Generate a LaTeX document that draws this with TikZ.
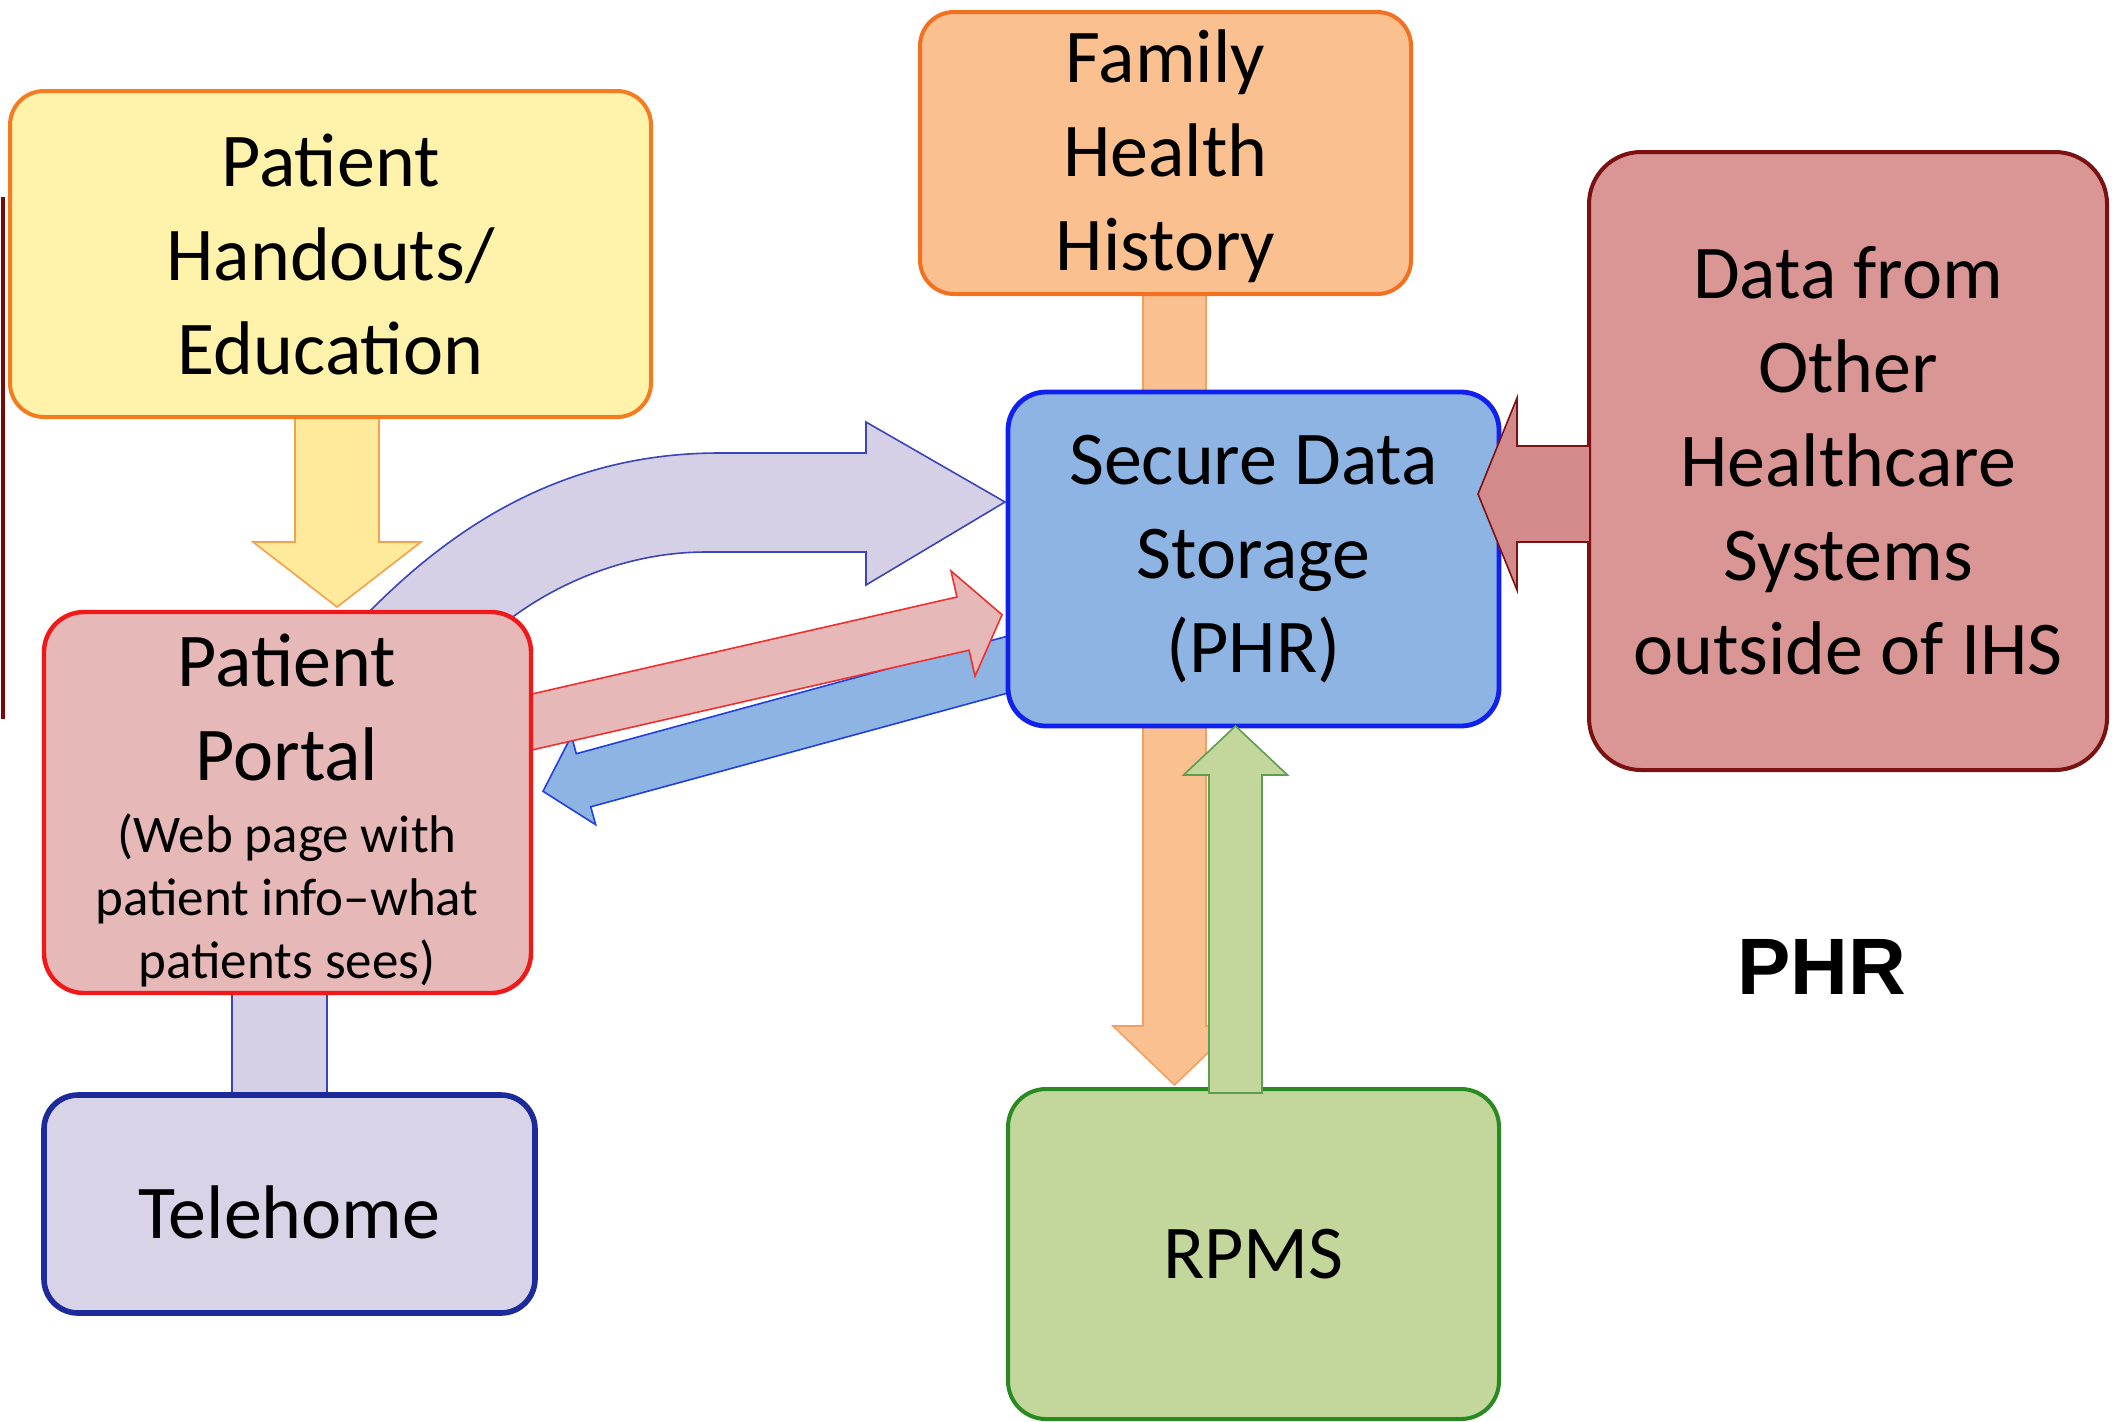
\documentclass[tikz,border=0pt]{standalone}
\usepackage{fontspec}
\setmainfont{Carlito}
\newfontfamily\headfont{Liberation Sans}
\usetikzlibrary{calc}

\definecolor{handfill}{HTML}{FFF2AA}
\definecolor{handline}{HTML}{F47B20}
\definecolor{yelfill}{HTML}{FFE99A}
\definecolor{yelline}{HTML}{F5A04A}
\definecolor{famfill}{HTML}{FAC08F}
\definecolor{famline}{HTML}{F37021}
\definecolor{orgline}{HTML}{F0A060}
\definecolor{datafill}{HTML}{D99694}
\definecolor{dataline}{HTML}{7B1111}
\definecolor{redfill}{HTML}{D38A8A}
\definecolor{secfill}{HTML}{8EB4E3}
\definecolor{secline}{HTML}{1020F0}
\definecolor{portfill}{HTML}{E6B9B8}
\definecolor{portline}{HTML}{F01818}
\definecolor{telefill}{HTML}{D8D3E6}
\definecolor{teleline}{HTML}{1C2A9C}
\definecolor{rpmsfill}{HTML}{C3D69B}
\definecolor{rpmsline}{HTML}{2A8A22}
\definecolor{lavfill}{HTML}{D5D0E5}
\definecolor{lavline}{HTML}{3A45B8}
\definecolor{pinkline}{HTML}{F03030}
\definecolor{blueline}{HTML}{2040E0}
\definecolor{grnline}{HTML}{5E9E4E}
\definecolor{edgeline}{HTML}{7A0A0A}

\pgfdeclarelayer{back}
\pgfsetlayers{back,main}

% straight block arrow: style, tail, tip, shaft half-width, head half-width, head length
\newcommand\blockarrow[6]{%
  \coordinate (babase) at ($(#3)!#6!(#2)$);
  \draw[#1] ($(#2)!#4!90:(#3)$) -- ($(babase)!#4!90:(#3)$)
    -- ($(babase)!#5!90:(#3)$) -- (#3) -- ($(babase)!#5!-90:(#3)$)
    -- ($(babase)!#4!-90:(#3)$) -- ($(#2)!#4!-90:(#3)$) -- cycle;
}

\begin{document}
\begin{tikzpicture}[x=0.5pt,y=-0.5pt,
  box/.style={draw, rounded corners=#1, line width=2pt, inner sep=0pt,
    align=center, font=\fontsize{38}{47}\selectfont},
  box/.default=17pt,
  lbl/.style={inner sep=0pt, align=center, font=\fontsize{38}{47}\selectfont},
  note/.style={inner sep=0pt, align=center, font=\fontsize{26.5}{31.5}\selectfont},
  flow/.style={line width=0.8pt, line join=miter},
  yelarrow/.style={flow, fill=yelfill, draw=yelline},
  orgarrow/.style={flow, fill=famfill, draw=orgline},
  grnarrow/.style={flow, fill=rpmsfill, draw=grnline},
  redarrow/.style={flow, fill=redfill, draw=dataline},
  pinkarrow/.style={flow, fill=portfill, draw=pinkline},
  bluearrow/.style={flow, fill=secfill, draw=blueline},
  lavarrow/.style={flow, fill=lavfill, draw=lavline}]

\begin{pgfonlayer}{back}
  \fill[white] (0,0) rectangle (2112,1421);
\end{pgfonlayer}
\useasboundingbox (0,0) rectangle (2112,1421);

% thin frame remnant on the left edge
\draw[edgeline, line width=2.4pt] (3,197) -- (3,719);

% boxes
\node[box=17pt, fill=handfill, draw=handline, minimum width=320.5pt, minimum height=163pt]
  (handouts) at (330.5,254) {Patient\\Handouts/\\Education};
\node[box=17pt, fill=famfill, draw=famline, minimum width=245.5pt, minimum height=141pt,
  text depth=2.5pt]
  (family) at (1165.5,153) {Family\\Health\\History};
\node[box=26pt, fill=datafill, draw=dataline, minimum width=259pt, minimum height=309pt]
  (data) at (1848,461) {Data from\\Other\\Healthcare\\Systems\\outside of IHS};
\node[box=19pt, fill=secfill, draw=secline, line width=2.4pt, minimum width=245.5pt, minimum height=167pt,
  text depth=5pt]
  (secure) at (1253.5,559) {Secure Data\\Storage\\(PHR)};
\node[box=20pt, fill=portfill, draw=portline, line width=2.2pt, minimum width=243.5pt, minimum height=190.5pt]
  (portal) at (287.5,802.5) {};
\node[lbl] (portaltitle) at (287,707) {Patient\\Portal};
\node[note] (portalnote) at (287,900) {(Web page with\\patient info–what\\patients sees)};
\node[box=17pt, fill=telefill, draw=teleline, line width=2.8pt, minimum width=245.5pt, minimum height=109pt,
  text height=34pt, text depth=0pt]
  (telehome) at (289.5,1204) {Telehome};
\node[box=19pt, fill=rpmsfill, draw=rpmsline, minimum width=245.5pt, minimum height=165pt]
  (rpms) at (1253.5,1254) {RPMS};

\node[font=\headfont\bfseries\fontsize{40}{48}\selectfont, anchor=base, inner sep=0pt]
  (phr) at (1822,994) {PHR};

% arrows lying under the boxes
\begin{pgfonlayer}{back}
  \draw[lavarrow] ($(portal.south)+(-55.5,-10)$) rectangle ($(telehome.north)+(37.5,10)$);

  \coordinate (yeltail) at (337,417);
  \coordinate (yeltip) at (337,607);
  \blockarrow{yelarrow}{yeltail}{yeltip}{21pt}{42pt}{32.5pt}

  \coordinate (orgtail) at (1174.5,294);
  \coordinate (orgtip) at (1174.5,1085);
  \blockarrow{orgarrow}{orgtail}{orgtip}{15.75pt}{30.75pt}{29.5pt}

  \draw[lavarrow] (369,628) -- (369,612) .. controls (450,530) and (560,453) .. (719,453)
    -- (866,453) -- (866,422) -- (1005,502) -- (866,585) -- (866,552) -- (706,552)
    .. controls (625,552) and (555,585) .. (510,619) -- (505,640) -- cycle;

  \coordinate (bluetail) at (1020,661.2);
  \coordinate (bluetip) at (543,791.3);
  \blockarrow{bluearrow}{bluetail}{bluetip}{13.75pt}{23pt}{21pt}

  \coordinate (pinktail) at (520,724.7);
  \coordinate (pinktip) at (1002,614.7);
  \blockarrow{pinkarrow}{pinktail}{pinktip}{13.65pt}{27pt}{20pt}
\end{pgfonlayer}

% arrows lying over the boxes
\coordinate (redtail) at (1590,494);
\coordinate (redtip) at (1478,494);
\blockarrow{redarrow}{redtail}{redtip}{24pt}{48pt}{19.5pt}

\coordinate (grntail) at (1235.5,1093);
\coordinate (grntip) at (1235.5,726);
\blockarrow{grnarrow}{grntail}{grntip}{13.25pt}{26pt}{24.5pt}

\end{tikzpicture}
\end{document}
